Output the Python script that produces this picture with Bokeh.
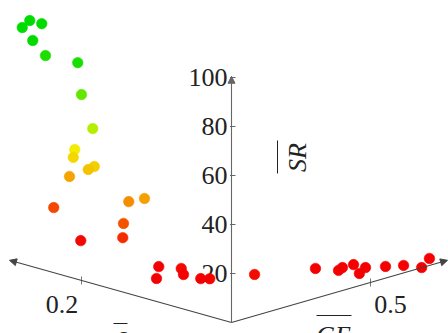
import colorsys
import numpy as np
from bokeh.plotting import figure
from bokeh.models import Range1d, Arrow, NormalHead
from bokeh.core.properties import value
from bokeh.embed import file_html
from bokeh.resources import INLINE

# ---------------- data ----------------
# points lying in the delta-SR plane (GE = 0)
delta_a = [0.269, 0.253, 0.279, 0.265, 0.248, 0.205, 0.200, 0.185, 0.209, 0.211,
           0.183, 0.191, 0.216, 0.116, 0.137, 0.237, 0.144, 0.145, 0.201,
           0.097, 0.100, 0.067, 0.064, 0.041, 0.029]
sr_a = [100.2, 100.3, 96.5, 92.4, 87.7, 88.5, 75.9, 63.3, 52.7, 49.3,
        48.0, 46.1, 41.1, 40.7, 37.6, 26.6, 28.1, 22.2, 16.2,
        14.5, 9.4, 16.3, 14.1, 14.4, 15.4]
# points lying in the GE-SR plane (delta = 0)
ge_b = [0.083, 0.302, 0.385, 0.399, 0.439, 0.460, 0.482, 0.554, 0.619, 0.684, 0.712]
sr_b = [16.9, 12.2, 8.7, 9.4, 9.3, 5.0, 6.7, 4.8, 3.1, 0.1, 2.9]

sr_ticks = [20, 40, 60, 80, 100]
delta_ticks = [0.2]
ge_ticks = [0.5]

# ---------------- projection ----------------
O = (231.0, 322.0)
UD = (-750.0, -210.0)   # screen shift per unit delta
UG = (278.0, -80.0)     # per unit GE
US = (0.0, -2.45)       # per unit SR


def proj(d, g, s):
    d = np.asarray(d, float); g = np.asarray(g, float); s = np.asarray(s, float)
    x = O[0] + UD[0] * d + UG[0] * g + US[0] * s
    y = O[1] + UD[1] * d + UG[1] * g + US[1] * s
    return x, y


def colour(s):
    h = 120.0 * min(max((s - 15.0) / 78.0, 0.0), 1.0)
    v = 0.96 - 0.1 * min(max((h - 60.0) / 60.0, 0.0), 1.0)
    r, g, b = colorsys.hsv_to_rgb(h / 360.0, 1.0, v)
    return "#%02x%02x%02x" % (int(r * 255), int(g * 255), int(b * 255))


delta = np.array(delta_a + [0.0] * len(ge_b))
ge = np.array([0.0] * len(delta_a) + ge_b)
sr = np.array(sr_a + sr_b)

p = figure(width=448, height=333, x_range=Range1d(0, 448), y_range=Range1d(333, 0),
           output_backend="svg", toolbar_location=None, min_border=0,
           x_axis_type=None, y_axis_type=None, outline_line_color=None)
p.grid.visible = False

AX = "#444444"
FONT = value("Liberation Serif")

# axes with arrows
for (d, g, s), col in [((0.296, 0, 0), AX), ((0, 0.777, 0), AX), ((0, 0, 100.5), "#666666")]:
    xe, ye = proj(d, g, s)
    p.add_layout(Arrow(end=NormalHead(size=7, fill_color=col, line_color=col),
                       x_start=O[0], y_start=O[1], x_end=float(xe), y_end=float(ye),
                       line_color=col, line_width=1.1))

# SR ticks and labels
tx, ty = proj(np.zeros(len(sr_ticks)), np.zeros(len(sr_ticks)), sr_ticks)
p.segment(x0=tx - 1.5, y0=ty, x1=tx + 4, y1=ty, line_color="#666666", line_width=1)
p.text(x=tx - 4, y=ty, text=[str(t) for t in sr_ticks], text_font=FONT,
       text_font_size="26px", text_align="right", text_baseline="middle", text_color="#222222")

# delta ticks
dx, dy = proj(delta_ticks, np.zeros(len(delta_ticks)), np.zeros(len(delta_ticks)))
p.segment(x0=dx, y0=dy - 4, x1=dx, y1=dy + 4, line_color="#777777", line_width=1)
p.text(x=dx - 19.5, y=dy + 23.5, text=["%.1f" % t for t in delta_ticks], text_font=FONT,
       text_font_size="26px", text_align="center", text_baseline="middle", text_color="#222222")

# GE ticks
gx, gy = proj(np.zeros(len(ge_ticks)), ge_ticks, np.zeros(len(ge_ticks)))
p.segment(x0=gx, y0=gy - 4, x1=gx, y1=gy + 4, line_color="#777777", line_width=1)
p.text(x=gx + 20, y=gy + 22, text=["%.1f" % t for t in ge_ticks], text_font=FONT,
       text_font_size="26px", text_align="center", text_baseline="middle", text_color="#222222")

# axis titles with overlines
p.text(x=[120], y=[341], text=["δ"], text_font=FONT, text_font_size="26px",
       text_font_style="italic", text_align="center", text_baseline="alphabetic", text_color="#222222")
p.segment(x0=[113], y0=[323], x1=[127], y1=[323], line_color="#222222", line_width=1)

p.text(x=[333], y=[335], text=["GE"], text_font=FONT, text_font_size="26px",
       text_font_style="italic", text_align="center", text_baseline="alphabetic", text_color="#222222")
p.segment(x0=[316], y0=[315], x1=[351], y1=[315], line_color="#222222", line_width=1)

p.text(x=[297], y=[157], text=["SR"], text_font=FONT, text_font_size="26px", angle=np.pi / 2,
       text_font_style="italic", text_align="center", text_baseline="alphabetic", text_color="#222222")
p.segment(x0=[277], y0=[140], x1=[277], y1=[173], line_color="#222222", line_width=1)

# points
px, py = proj(delta, ge, sr)
cols = [colour(s) for s in sr]
p.scatter(x=px, y=py, size=10.5, fill_color=cols, line_color=cols, line_alpha=0.6)

open("out.html", "w").write(file_html(p, INLINE))
